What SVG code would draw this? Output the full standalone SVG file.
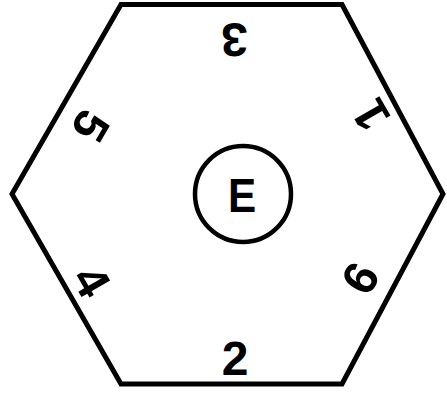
<svg xmlns="http://www.w3.org/2000/svg" width="447" height="394" viewBox="0 0 447 394">
<style>
.edge{fill:none;stroke:#000;stroke-width:5;stroke-linejoin:miter}
.lbl{font-family:"Liberation Sans",Arial,sans-serif;font-weight:bold;font-size:48px;fill:#000;text-anchor:middle}
</style>
<rect width="447" height="394" fill="#fff"/>
<g id="hexagon">
<polygon class="edge" points="121,4.5 342,4.5 443,194 342,384 121,384 12,194"/>
</g>
<g id="center-E">
<circle cx="243" cy="194" r="48" fill="none" stroke="#000" stroke-width="4.5"/>
<text class="lbl" transform="translate(242,195) scale(0.88,1)" y="17">E</text>
</g>
<g id="label-3" transform="translate(234.5,40) rotate(180)"><text class="lbl" y="17">3</text></g>
<g id="label-2" transform="translate(235,358)"><text class="lbl" y="17">2</text></g>
<g id="label-1" transform="translate(371,116) rotate(-120)"><text class="lbl" x="1" y="17">1</text></g>
<g id="label-5" transform="translate(91,126) rotate(120)"><text class="lbl" y="17">5</text></g>
<g id="label-4" transform="translate(92,281) rotate(60)"><text class="lbl" y="17">4</text></g>
<g id="label-6" transform="translate(360,278) rotate(-60)"><text class="lbl" y="17">6</text></g>
</svg>
